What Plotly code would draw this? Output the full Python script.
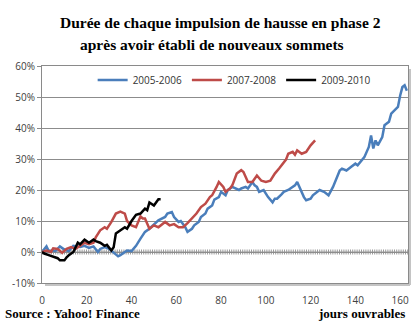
import plotly.graph_objects as go

# ---- data ----
series_names = ["2005-2006", "2007-2008", "2009-2010"]
series_colors = ["#4a7ebb", "#be4b48", "#000000"]

days_0506 = [0,2,3,5,6,8,10,12,14,17,
             19,21,23,25,26,28,30,32,34,35,
             38,40,42,44,46,48,50,52,55,56,
             58,59,61,62,64,65,67,68,70,71,
             73,74,76,77,79,80,82,83,85,88,
             89,91,92,94,95,96,97,99,101,103,
             104,105,107,108,110,111,113,114,115,117,
             118,120,121,122,124,126,128,130,131,133,
             134,136,138,140,141,143,144,146,147,148,
             149,150,151,152,153,155,156,158,159,160,
             161,162,163]
vals_0506 = [0,1.8,0.3,0.5,0.3,1.8,0.8,0.3,2,1.6,
             2,1.3,1.8,0,1,1.6,1,-0.3,-1.4,-1,
             0.5,0.3,2,4.3,6.5,7.5,9,10.2,11.3,12.4,
             12.9,11.3,9.7,10,8,6.5,7.5,8.6,9.7,11.3,
             12.4,14,15,16.9,17.7,19.4,18.3,20,21,20,
             20.5,21,20.5,22.6,21.5,21,19.4,20,17.7,16,
             17.2,17.2,18.6,19.4,20,20.5,21.5,22.6,21,17.7,
             16.7,17.2,18.3,18.8,20,19.4,18.3,21,22.6,26.3,
             26.9,26.3,27.4,28.5,28,29.6,30.6,33.9,37.6,33.4,
             36,34.4,36,37.1,40.9,42,44.6,46.3,46.8,50.5,
             53.2,53.8,52]

days_0708 = [0,2,4,5,7,9,11,13,15,17,
             19,21,23,24,26,28,29,31,33,35,
             37,38,40,42,44,45,46,48,50,52,
             55,57,59,61,63,65,67,69,71,73,
             75,76,78,79,81,82,84,85,87,89,
             90,92,94,96,98,100,102,104,106,107,
             109,110,112,113,114,116,118,120,122]
vals_0708 = [0,0.5,0,1.2,1,-0.3,1,1.6,1,2,
             3,2.5,3,4.7,7,8,7.5,9.7,12.4,13,
             12.4,10,8.6,8,11.5,10.8,10.8,7.5,8.6,8,
             9.7,8.6,9,8,8,9.3,10.7,12.4,14.5,15.6,
             17.7,18.3,21,22.6,21,19.4,20.5,21.5,25.3,26.4,
             25.8,22.6,22.6,24.7,23,22.6,23,25.3,27,28,
             29.8,31.7,32.3,31.4,32.8,31.7,32.3,34.4,36]

days_0910 = [0,1,3,5,7,8,10,11,12,14,
             16,17,19,21,23,24,26,28,29,31,
             32,33,35,37,38,40,42,44,46,47,
             48,50,52,53]
vals_0910 = [0,-0.5,-1,-1.5,-2,-2.7,-2.7,-1.7,-1,0,
             3,2.5,4,3,4,3.5,3,2,2.3,0.5,
             1.5,6,7,8,7.5,10,12,12.4,14,13.5,
             16,15,17,17]

x_ticks = [0, 20, 40, 60, 80, 100, 120, 140, 160]
y_ticks = [-10, 0, 10, 20, 30, 40, 50, 60]
y_tick_labels = [f"{v}%" for v in y_ticks]

title_line1 = "Durée de chaque impulsion de hausse en phase 2"
title_line2 = "après avoir établi de nouveaux sommets"
source_text = "Source : Yahoo! Finance"
x_title = "jours ouvrables"

# ---- figure ----
fig = go.Figure()
for name, color, xs, ys in zip(series_names, series_colors,
                               [days_0506, days_0708, days_0910],
                               [vals_0506, vals_0708, vals_0910]):
    fig.add_trace(go.Scatter(x=xs, y=ys, mode="lines", name=name,
                             line=dict(color=color, width=2.5)))

serif = "Liberation Serif, Times New Roman, serif"
tickfont = dict(family="Open Sans, Arial, sans-serif", size=10, color="#404040")

PW, PH = 366, 217  # plot area size in px
fig.update_layout(
    width=418, height=323,
    margin=dict(l=42, r=10, t=66, b=40),
    paper_bgcolor="white", plot_bgcolor="white",
    showlegend=True,
    legend=dict(orientation="h", x=0.525, xanchor="center", y=0.935, yanchor="middle",
                bgcolor="white", font=dict(family="Open Sans, Arial, sans-serif", size=10, color="#333"),
                itemwidth=30, tracegroupgap=0),
    xaxis=dict(range=[0, 163.5], tickvals=x_ticks, showgrid=False, zeroline=False,
               showline=True, mirror=True, linecolor="#8a8a8a", linewidth=1,
               ticks="outside", ticklen=8, tickcolor="rgba(0,0,0,0)",
               tickfont=tickfont),
    yaxis=dict(range=[-10, 60], tickvals=y_ticks, ticktext=y_tick_labels,
               showgrid=True, gridcolor="#8c8c8c", gridwidth=1, zeroline=False,
               showline=True, mirror=True, linecolor="#8a8a8a", linewidth=1,
               ticks="outside", ticklen=4, tickcolor="#8a8a8a",
               tickfont=tickfont),
    annotations=[
        dict(text=f"<b>{title_line1}</b>", xref="paper", yref="paper",
             x=(220 - 42) / PW, y=(283 - 22) / PH, xanchor="center", yanchor="middle",
             showarrow=False, font=dict(family=serif, size=15.5, color="black")),
        dict(text=f"<b>{title_line2}</b>", xref="paper", yref="paper",
             x=(212 - 42) / PW, y=(283 - 44) / PH, xanchor="center", yanchor="middle",
             showarrow=False, font=dict(family=serif, size=15.5, color="black")),
        dict(text=f"<b>{source_text}</b>", xref="paper", yref="paper",
             x=(3 - 42) / PW, y=(283 - 313) / PH, xanchor="left", yanchor="middle",
             showarrow=False, font=dict(family=serif, size=13, color="black")),
        dict(text=f"<b>{x_title}</b>", xref="paper", yref="paper",
             x=(407 - 42) / PW, y=(283 - 313) / PH, xanchor="right", yanchor="middle",
             showarrow=False, font=dict(family=serif, size=13, color="black")),
    ],
    shapes=[
        dict(type="line", xref="paper", yref="y", x0=0, x1=1, y0=0, y1=0,
             line=dict(color="#9a9a9a", width=5, dash="1px,1.2px"), layer="below"),
        dict(type="line", xref="paper", yref="y", x0=0, x1=1, y0=0, y1=0,
             line=dict(color="#9a9a9a", width=1), layer="below"),
        # soft drop shadow of the plot-area frame (right and bottom)
        dict(type="line", xref="paper", yref="paper", x0=1 + 2 / PW, x1=1 + 2 / PW,
             y0=-2 / PH, y1=1 - 3 / PH, line=dict(color="#c4c4c4", width=2)),
        dict(type="line", xref="paper", yref="paper", x0=3 / PW, x1=1 + 2 / PW,
             y0=-2 / PH, y1=-2 / PH, line=dict(color="#c4c4c4", width=2)),
    ],
)

fig.write_html("out.html")
